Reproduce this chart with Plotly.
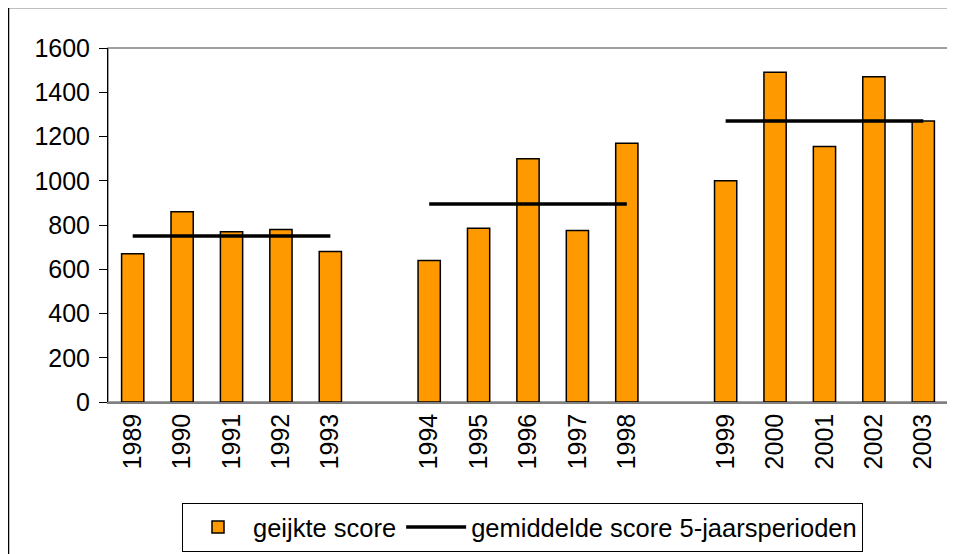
import plotly.graph_objects as go

# ---- data ----
years = [1989, 1990, 1991, 1992, 1993,
         1994, 1995, 1996, 1997, 1998,
         1999, 2000, 2001, 2002, 2003]
scores = [670, 860, 770, 780, 680,
          640, 785, 1100, 775, 1170,
          1000, 1490, 1155, 1470, 1270]
period_means = [750, 895, 1270]
group_size = 5

# category slots with an empty slot between the 5-year periods
positions = [i + i // group_size for i in range(len(years))]

line_x, line_y = [], []
for g, m in enumerate(period_means):
    grp = positions[g * group_size:(g + 1) * group_size]
    line_x += [grp[0], grp[-1], None]
    line_y += [m, m, None]

FONT = "Liberation Sans, Arial, sans-serif"

fig = go.Figure()
fig.add_trace(go.Bar(
    x=positions, y=scores, name="geijkte score",
    marker=dict(color="#FF9900", line=dict(color="black", width=1.5)),
    width=0.45,
))
fig.add_trace(go.Scatter(
    x=line_x, y=line_y, mode="lines", name="gemiddelde score 5-jaarsperioden",
    line=dict(color="black", width=3.5),
))

# the page body has an 8px margin, so the figure starts at (8, 8)
OFF = 8
W, H = 955 - OFF, 554 - OFF
L, R, T, B = 108 - OFF, 7, 48 - OFF, 152
pw, ph = W - L - R, H - T - B


def px_x(p):  # reference-screen pixel -> paper x
    return (p - 108) / pw


def px_y(p):  # reference-screen pixel -> paper y
    return (402 - p) / ph


fig.update_layout(
    width=W, height=H,
    margin=dict(l=L, r=R, t=T, b=B, autoexpand=False),
    paper_bgcolor="white", plot_bgcolor="white",
    font=dict(family=FONT, size=25, color="black"),
    showlegend=True,
    legend=dict(
        orientation="h", x=px_x(182), y=px_y(503), xanchor="left", yanchor="top",
        bordercolor="black", borderwidth=1, bgcolor="white",
        font=dict(size=25.5), itemwidth=60,
        tracegroupgap=0,
    ),
    xaxis=dict(
        range=[-0.5, 16.5],
        tickmode="array", tickvals=positions, ticktext=[str(y) for y in years],
        tickangle=-90, tickfont=dict(size=25),
        showgrid=False, zeroline=False, automargin=False,
        showline=True, linecolor="#808080", linewidth=1.5,
        ticks="",
    ),
    yaxis=dict(
        range=[0, 1600], dtick=200, tick0=0,
        tickfont=dict(size=25), ticklabelstandoff=4,
        showgrid=False, zeroline=False, automargin=False,
        showline=True, linecolor="black", linewidth=1,
        ticks="outside", ticklen=8, tickcolor="black",
    ),
    shapes=[
        # plot-area frame
        dict(type="rect", xref="paper", yref="paper", x0=0, x1=1, y0=0, y1=1,
             line=dict(color="#808080", width=1.5), layer="below"),
        # outer chart border (right/bottom edges fall outside the view)
        dict(type="rect", xref="paper", yref="paper",
             x0=px_x(8.5), x1=px_x(1000), y0=px_y(620), y1=px_y(7.5),
             line=dict(color="black", width=1.5), layer="below"),
    ],
)

fig.write_html("out.html")
